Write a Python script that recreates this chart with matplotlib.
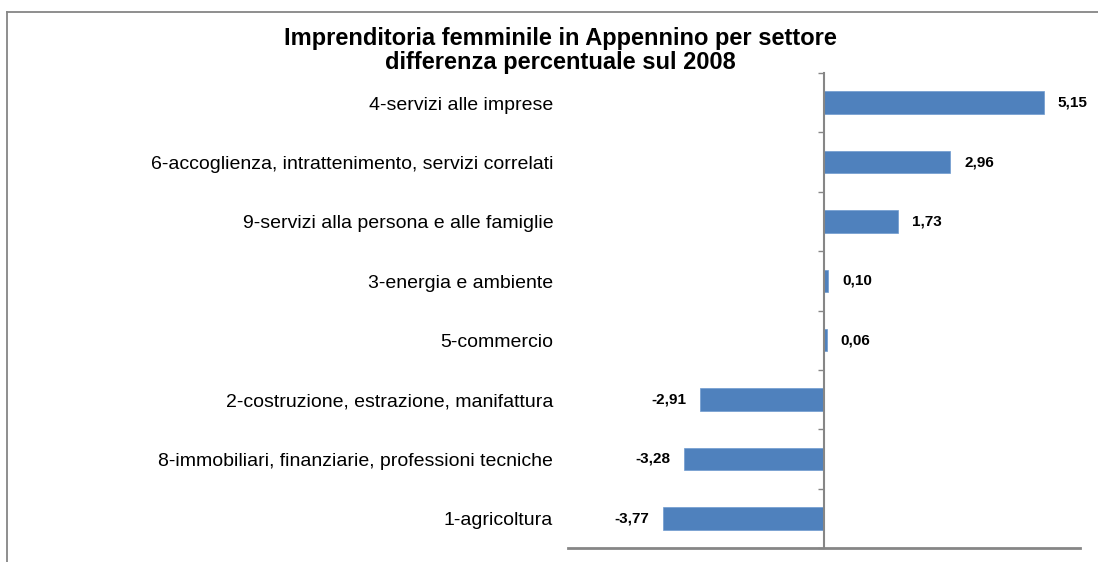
import numpy as np
import matplotlib
matplotlib.use('Agg')
import matplotlib.pyplot as plt
from matplotlib.lines import Line2D

plt.rcParams['font.family'] = ['Liberation Sans', 'DejaVu Sans']

categories = ['4-servizi alle imprese',
              '6-accoglienza, intrattenimento, servizi correlati',
              '9-servizi alla persona e alle famiglie',
              '3-energia e ambiente',
              '5-commercio',
              '2-costruzione, estrazione, manifattura',
              '8-immobiliari, finanziarie, professioni tecniche',
              '1-agricoltura']
values = [5.15, 2.96, 1.73, 0.10, 0.06, -2.91, -3.28, -3.77]
labels = ['5,15', '2,96', '1,73', '0,10', '0,06', '-2,91', '-3,28', '-3,77']

W, H = 1098, 562
fig = plt.figure(figsize=(W / 100, H / 100), dpi=100)
ax = fig.add_axes([568 / W, 1 - 548 / H, 512 / W, 475 / H])

n = len(categories)
ypos = np.arange(n)[::-1]
ax.barh(ypos, values, height=0.38, color='#4F81BD', edgecolor='#6f9ad0', linewidth=0.5)

ax.set_xlim(-6, 6)
ax.set_ylim(-0.5, n - 0.5)

gray = '#868686'
for s in ['top', 'right']:
    ax.spines[s].set_visible(False)
ax.spines['left'].set_position(('data', 0))
ax.spines['left'].set_color(gray)
ax.spines['left'].set_linewidth(1.5)
ax.spines['bottom'].set_color(gray)
ax.spines['bottom'].set_linewidth(2)
ax.set_xticks([])
ax.set_yticks(np.arange(-0.5, n, 1.0))
ax.tick_params(axis='y', direction='out', length=4, color=gray, width=1, labelleft=False)

for y, v, lab, cat in zip(ypos, values, labels, categories):
    if v >= 0:
        ax.annotate(lab, (v, y), xytext=(10, 0), textcoords='offset points',
                    ha='left', va='center', fontsize=11, fontweight='bold')
    else:
        ax.annotate(lab, (v, y), xytext=(-10, 0), textcoords='offset points',
                    ha='right', va='center', fontsize=11, fontweight='bold')
    ax.text(-0.029, y - 0.04, cat, transform=ax.get_yaxis_transform(),
            ha='right', va='center', fontsize=14)

fig.text(560 / W, 1 - 39 / H, 'Imprenditoria femminile in Appennino per settore',
         ha='center', va='center', fontsize=17, fontweight='bold')
fig.text(560 / W, 1 - 63 / H, 'differenza percentuale sul 2008',
         ha='center', va='center', fontsize=17, fontweight='bold')

# chart border (top and left only visible)
fig.add_artist(Line2D([6.5 / W, 1], [1 - 11.5 / H, 1 - 11.5 / H], color=gray, lw=1.3,
                      transform=fig.transFigure))
fig.add_artist(Line2D([6.5 / W, 6.5 / W], [0, 1 - 11.5 / H], color=gray, lw=1.3,
                      transform=fig.transFigure))

fig.savefig('out.png', dpi=100, facecolor='white')
